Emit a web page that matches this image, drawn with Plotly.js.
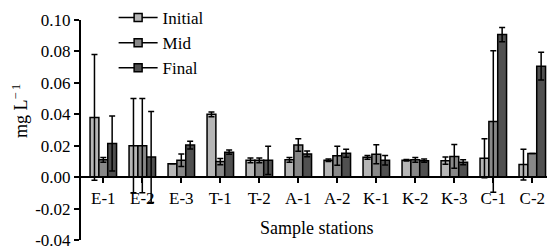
<!DOCTYPE html>
<html>
<head>
<meta charset="utf-8">
<script src="https://cdn.plot.ly/plotly-3.0.1.min.js"></script>
<style>html,body{margin:0;padding:0;background:#fff;}#chart{width:547px;height:250px;}</style>
</head>
<body>
<div id="chart"></div>
<script>
const stations = ['E-1','E-2','E-3','T-1','T-2','A-1','A-2','K-1','K-2','K-3','C-1','C-2'];
const initialVals = [0.038,0.020,0.0085,0.040,0.0107,0.011,0.0107,0.0126,0.0107,0.0105,0.012,0.008];
const initialErr  = [0.040,0.030,0,0.0015,0.0015,0.0015,0.0008,0.0012,0.0005,0.0023,0.0124,0.0098];
const midVals     = [0.011,0.020,0.0107,0.0099,0.0107,0.0204,0.0136,0.0146,0.011,0.0132,0.0354,0.015];
const midErr      = [0.0015,0.030,0.004,0.002,0.0015,0.004,0.006,0.006,0.0015,0.0076,0.045,0];
const finalVals   = [0.0214,0.0128,0.0204,0.0159,0.0107,0.0148,0.0152,0.0107,0.0105,0.0095,0.0907,0.0706];
const finalErr    = [0.0175,0.029,0.0025,0.0013,0.009,0.0018,0.0025,0.003,0.001,0.0016,0.0046,0.0088];
const seriesNames = ['Initial','Mid','Final'];
const yTickVals = [-0.04,-0.02,0.00,0.02,0.04,0.06,0.08,0.10];
const yTickText = ['-0.04','-0.02','0.00','0.02','0.04','0.06','0.08','0.10'];

const colors = ['#b6b6b6','#888888','#505050'];
const FONT = 'Liberation Serif';
const vals = [initialVals, midVals, finalVals];
const errs = [initialErr, midErr, finalErr];

const traces = [];
for (let i = 0; i < 3; i++) {
  traces.push({
    type: 'bar', x: stations, y: vals[i], name: seriesNames[i], showlegend: false,
    marker: {color: colors[i], line: {color: '#000', width: 1.5}},
    error_y: {type: 'data', array: errs[i], visible: true, color: '#000', thickness: 1.5, width: 3}
  });
}
for (let i = 0; i < 3; i++) {
  traces.push({
    type: 'scatter', mode: 'lines+markers', x: [null], y: [null], name: seriesNames[i],
    line: {color: '#000', width: 1.5},
    marker: {symbol: 'square', size: 8, color: colors[i], line: {color: '#000', width: 1.5}}
  });
}

const layout = {
  width: 547, height: 250,
  margin: {l: 81, r: 0, t: 13, b: 10, pad: 0},
  paper_bgcolor: '#fff', plot_bgcolor: '#fff',
  font: {family: FONT, size: 17, color: '#000'},
  barmode: 'group', bargap: 0.32, bargroupgap: 0,
  showlegend: true,
  legend: {x: 0.07, y: 1.092, xanchor: 'left', yanchor: 'top', bgcolor: 'rgba(0,0,0,0)',
           font: {family: FONT, size: 17, color: '#000'}, itemwidth: 39, tracegroupgap: 0},
  xaxis: {
    type: 'category', range: [-0.572, 11.377], anchor: 'free', position: 0.2857,
    showline: true, linecolor: '#000', linewidth: 2,
    ticks: 'outside', ticklen: 5, tickwidth: 2, tickcolor: '#000',
    showgrid: false, zeroline: false,
    tickfont: {family: FONT, size: 17, color: '#000'}
  },
  yaxis: {
    range: [-0.04, 0.10], tickvals: yTickVals, ticktext: yTickText,
    showline: true, linecolor: '#000', linewidth: 2,
    ticks: 'outside', ticklen: 5, tickwidth: 2, tickcolor: '#000',
    showgrid: false, zeroline: false,
    tickfont: {family: FONT, size: 17, color: '#000'}
  },
  annotations: [
    {text: 'Sample stations', xref: 'paper', yref: 'paper', x: 0.506, y: 0.053,
     xanchor: 'center', yanchor: 'middle', showarrow: false, font: {family: FONT, size: 18, color: '#000'}},
    {text: 'mg L<sup>\u2212\u20091</sup>', xref: 'paper', yref: 'paper', x: -0.131, y: 0.586,
     xanchor: 'center', yanchor: 'middle', textangle: -90, showarrow: false, font: {family: FONT, size: 18, color: '#000'}}
  ]
};

Plotly.newPlot('chart', traces, layout, {staticPlot: true, displayModeBar: false});
</script>
</body>
</html>
